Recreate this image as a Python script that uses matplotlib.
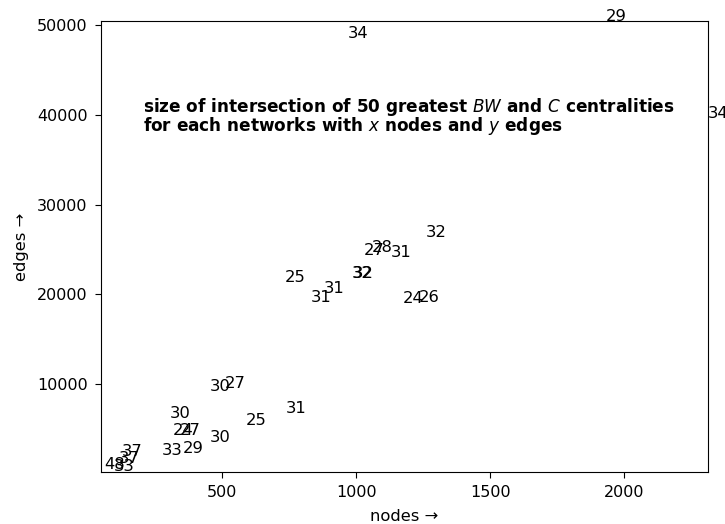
import matplotlib
matplotlib.use("Agg")
import matplotlib.pyplot as plt

nodes = [970, 1933, 2313, 1261, 1030, 1059, 1131, 735, 984, 986, 878, 831,
         1173, 1233, 453, 511, 306, 739, 588, 316, 341, 452, 275, 353,
         127, 116, 60, 97]
edges = [48600, 50470, 39650, 26390, 24390, 24700, 24160, 21400, 21780, 21830,
         20180, 19180, 19060, 19140, 9250, 9520, 6180, 6730, 5430, 4310,
         4310, 3500, 2090, 2340, 1970, 1190, 580, 300]
sizes = [34, 29, 34, 32, 27, 28, 31, 25, 32, 32, 31, 31, 24, 26, 30, 27, 30,
         31, 25, 24, 27, 30, 33, 29, 37, 37, 48, 33]

x_ticks = [500, 1000, 1500, 2000]
y_ticks = [10000, 20000, 30000, 40000, 50000]

FS = 11.8
fig = plt.figure(figsize=(7.25, 5.24), dpi=100)
ax = fig.add_axes([101 / 725, 52 / 524, 607 / 725, 451 / 524])

for x, y, s in zip(nodes, edges, sizes):
    ax.text(x, y, str(s), fontsize=FS)

ax.set_xlim(48, 2313)
ax.set_ylim(190, 50470)
ax.set_xticks(x_ticks)
ax.set_yticks(y_ticks)
ax.tick_params(labelsize=11.5, length=4.5, pad=5.0)
ax.set_xlabel("nodes \u2192", fontsize=FS, labelpad=6.5)
ax.set_ylabel("edges \u2192", fontsize=FS, labelpad=6.0)

ax.text(205, 38200,
        "size of intersection of 50 greatest $BW$ and $C$ centralities\n"
        "for each networks with $x$ nodes and $y$ edges",
        fontsize=12.2, fontweight="bold", linespacing=0.82)

fig.savefig("out.png", dpi=100)
